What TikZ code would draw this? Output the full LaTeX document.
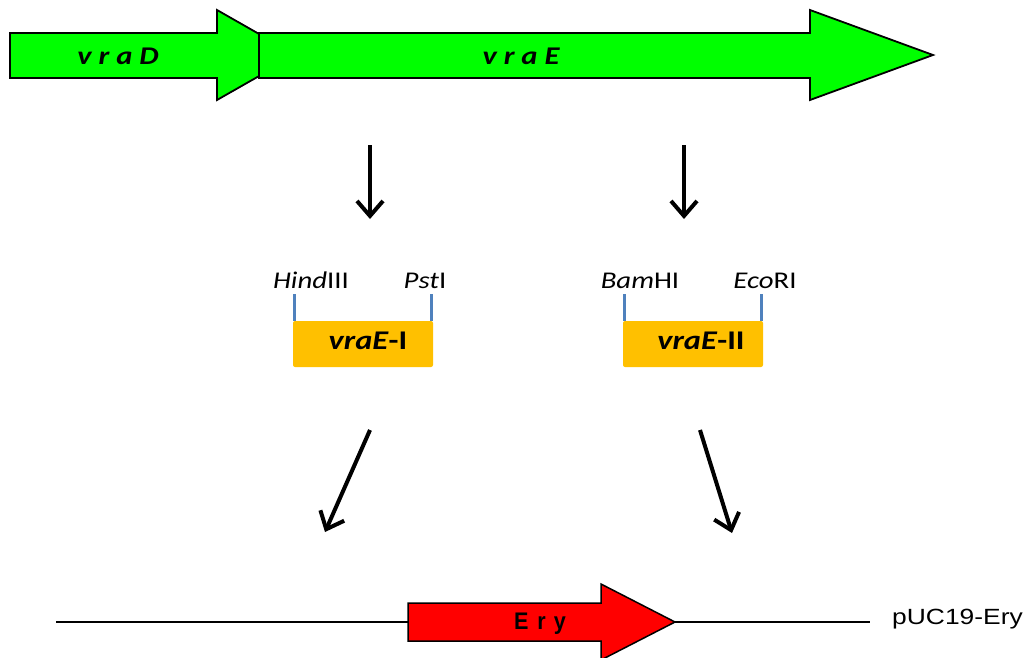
\documentclass[tikz,border=0pt]{standalone}
\usepackage{fontspec}
\usetikzlibrary{arrows.meta}
\newfontfamily\calfont{Carlito}[FakeStretch=1.2]
\newfontfamily\arifont{Liberation Sans}[FakeStretch=1.2]
\newfontfamily\eryfont{Liberation Sans}[FakeStretch=0.9]
\definecolor{genegreen}{RGB}{0,255,0}
\definecolor{fragorange}{RGB}{255,192,0}
\definecolor{tickblue}{RGB}{79,129,189}
\definecolor{eryred}{RGB}{255,0,0}
\tikzset{
  geneshape/.style={draw=black, line width=1.8pt, line join=miter},
  genelabel/.style={anchor=base, inner sep=0pt, font=\calfont\fontsize{25.5}{30}\selectfont\bfseries\itshape},
  enzlabel/.style={anchor=base, inner sep=0pt, font=\calfont\fontsize{24}{28}\selectfont},
  fraglabel/.style={anchor=base, inner sep=0pt, font=\calfont\fontsize{27}{32}\selectfont},
  fragbox/.style={fill=fragorange, rounded corners=2pt, minimum width=140pt, minimum height=46pt, inner sep=0pt},
  sitetick/.style={draw=tickblue, line width=3pt},
  flowarrow/.style={draw=black, line width=4pt, -{Straight Barb[length=15pt,width=26pt]}},
  backbone/.style={draw=black, line width=2pt},
}
\begin{document}
\begin{tikzpicture}[x=1pt,y=-1pt]
\useasboundingbox (0,0) rectangle (1028,657);
% green genes
\draw[geneshape, fill=genegreen] (10,33) -- (217,33) -- (217,10) -- (296,55) -- (217,100) -- (217,78) -- (10,78) -- cycle;
\draw[geneshape, fill=genegreen] (259,33) -- (810,33) -- (810,10) -- (933,55) -- (810,100) -- (810,78) -- (259,78) -- cycle;
\node[genelabel] (vraD) at (118,64) {v r a D};
\node[genelabel] (vraE) at (521,64) {v r a E};
% vertical arrows
\coordinate (d1s) at (370,145);
\coordinate (d1e) at (370,219);
\coordinate (d2s) at (684,145);
\coordinate (d2e) at (684,219);
\draw[flowarrow] (d1s) -- (d1e);
\draw[flowarrow] (d2s) -- (d2e);
% fragments
\node[fragbox] (frag1) at (363,344) {};
\node[fragbox] (frag2) at (693,344) {};
\draw[sitetick] ([xshift=2pt]frag1.north west) -- ++(0,-27) coordinate (t1a);
\draw[sitetick] ([xshift=-2pt]frag1.north east) -- ++(0,-27) coordinate (t1b);
\draw[sitetick] ([xshift=2pt]frag2.north west) -- ++(0,-27) coordinate (t2a);
\draw[sitetick] ([xshift=-2pt]frag2.north east) -- ++(0,-27) coordinate (t2b);
\node[fraglabel] (f1t) at (368,349) {\textbf{\textit{vraE}}\textbf{-I}};
\node[fraglabel] (f2t) at (701,349) {\textbf{\textit{vraE}}\textbf{-II}};
\node[enzlabel] (hind) at (311,288) {\textit{Hind}III};
\node[enzlabel] (pst) at (425,288) {\textit{Pst}I};
\node[enzlabel] (bam) at (640,288) {\textit{Bam}HI};
\node[enzlabel] (eco) at (765,288) {\textit{Eco}RI};
% diagonal arrows
\coordinate (a1s) at (370,430);
\coordinate (a1e) at (325,532);
\coordinate (a2s) at (700,430);
\coordinate (a2e) at (732,533);
\draw[flowarrow] (a1s) -- (a1e);
\draw[flowarrow] (a2s) -- (a2e);
% plasmid
\coordinate (lineL) at (56,622);
\coordinate (eryTail) at (408,622);
\coordinate (eryTip) at (675,622);
\coordinate (lineR) at (870,622);
\draw[backbone] (lineL) -- (eryTail);
\draw[backbone] (eryTip) -- (lineR);
\draw[draw=black, line width=1.5pt, fill=eryred] (408,603) -- (601,603) -- (601,584) -- (eryTip) -- (601,660) -- (601,641) -- (408,641) -- cycle;
\node[anchor=base, inner sep=0pt, font=\eryfont\fontsize{24}{28}\selectfont\bfseries] (ery) at (540,629) {E\hspace{9pt}r\hspace{8pt}y};
\node[anchor=base west, inner sep=0pt, font=\arifont\fontsize{22}{26}\selectfont] (puc) at (892,624) {pUC19-Ery};
\end{tikzpicture}
\end{document}
